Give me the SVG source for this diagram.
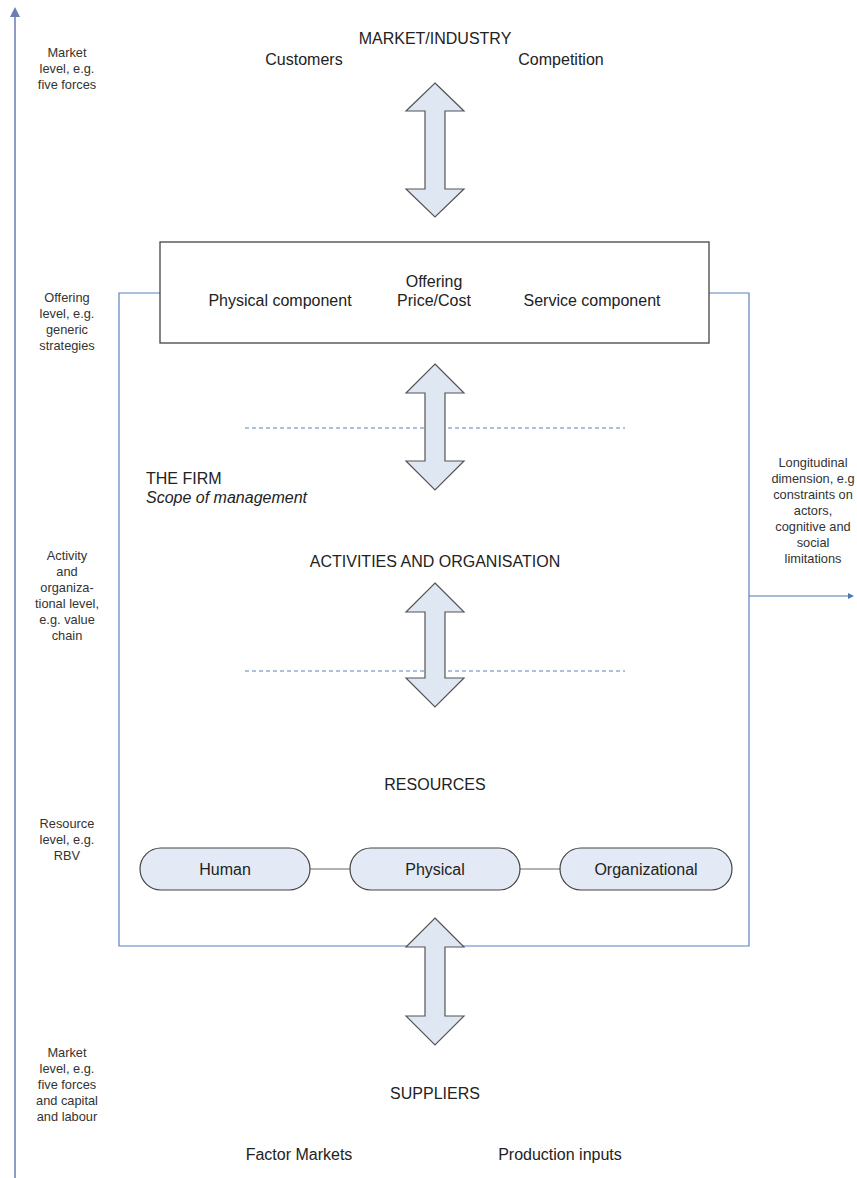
<svg xmlns="http://www.w3.org/2000/svg" width="857" height="1178" viewBox="0 0 857 1178">
  <defs>
    <style>
      .t { font-family: "Liberation Sans", Arial, sans-serif; fill: #222; font-size: 16px; }
      .c { text-anchor: middle; }
      .s { font-family: "Liberation Sans", Arial, sans-serif; fill: #333; font-size: 12.8px; text-anchor: middle; }
      .dbl { fill: #dfe7f3; stroke: #555; stroke-width: 1.2; }
      .pill { fill: #e3eaf5; stroke: #444; stroke-width: 1.2; }
      .frame { fill: none; stroke: #5b82bd; stroke-width: 1.2; }
      .dash { stroke: #5b82bd; stroke-width: 1; stroke-dasharray: 4 3; }
      .link { stroke: #666; stroke-width: 1.2; }
    </style>
    <marker id="tipUp" viewBox="0 0 10 10" refX="5" refY="5" markerWidth="5" markerHeight="5" orient="auto">
      <path d="M0,0 L10,5 L0,10 z" fill="#6b7fb5"/>
    </marker>
    <marker id="tipRight" viewBox="0 0 10 10" refX="5" refY="5" markerWidth="5" markerHeight="5" orient="auto">
      <path d="M0,0 L10,5 L0,10 z" fill="#4f76b5"/>
    </marker>
  </defs>

  <g id="connectors">
    <!-- vertical level axis -->
    <line x1="15" y1="1178" x2="15" y2="12" stroke="#8e9cc4" stroke-width="2" marker-end="url(#tipUp)"/>
    <!-- firm boundary -->
    <path class="frame" d="M160,293 L119,293 L119,946 L749,946 L749,293 L709,293"/>
    <!-- longitudinal axis -->
    <line x1="749" y1="596" x2="851" y2="596" stroke="#4f76b5" stroke-width="1.2" marker-end="url(#tipRight)"/>
    <!-- level separators -->
    <line class="dash" x1="245" y1="428" x2="625" y2="428"/>
    <line class="dash" x1="245" y1="671" x2="625" y2="671"/>
    <!-- resource links -->
    <line class="link" x1="310" y1="869" x2="350" y2="869"/>
    <line class="link" x1="520" y1="869" x2="560" y2="869"/>
    <!-- double arrows between levels -->
    <path class="dbl" d="M435,83 L464,111 L445,111 L445,189 L464,189 L435,217 L406,189 L425,189 L425,111 L406,111 Z"/>
    <path class="dbl" d="M435,364 L464,393 L445,393 L445,461 L464,461 L435,490 L406,461 L425,461 L425,393 L406,393 Z"/>
    <path class="dbl" d="M435,583 L464,612 L445,612 L445,678 L464,678 L435,707 L406,678 L425,678 L425,612 L406,612 Z"/>
    <path class="dbl" d="M435,918 L464,947 L445,947 L445,1016 L464,1016 L435,1045 L406,1016 L425,1016 L425,947 L406,947 Z"/>
  </g>

  <g id="level-labels">
    <text class="s"><tspan x="67" y="57">Market</tspan><tspan x="67" y="73">level, e.g.</tspan><tspan x="67" y="89">five forces</tspan></text>
    <text class="s"><tspan x="67" y="302">Offering</tspan><tspan x="67" y="318">level, e.g.</tspan><tspan x="67" y="334">generic</tspan><tspan x="67" y="350">strategies</tspan></text>
    <text class="s"><tspan x="67" y="560">Activity</tspan><tspan x="67" y="576">and</tspan><tspan x="67" y="592">organiza-</tspan><tspan x="67" y="608">tional level,</tspan><tspan x="67" y="624">e.g. value</tspan><tspan x="67" y="640">chain</tspan></text>
    <text class="s"><tspan x="67" y="828">Resource</tspan><tspan x="67" y="844">level, e.g.</tspan><tspan x="67" y="860">RBV</tspan></text>
    <text class="s"><tspan x="67" y="1057">Market</tspan><tspan x="67" y="1073">level, e.g.</tspan><tspan x="67" y="1089">five forces</tspan><tspan x="67" y="1105">and capital</tspan><tspan x="67" y="1121">and labour</tspan></text>
    <text class="s"><tspan x="813" y="467">Longitudinal</tspan><tspan x="813" y="483">dimension, e.g</tspan><tspan x="813" y="499">constraints on</tspan><tspan x="813" y="515">actors,</tspan><tspan x="813" y="531">cognitive and</tspan><tspan x="813" y="547">social</tspan><tspan x="813" y="563">limitations</tspan></text>
  </g>

  <g id="market">
    <text class="t c" x="435" y="44">MARKET/INDUSTRY</text>
    <text class="t c" x="304" y="65">Customers</text>
    <text class="t c" x="561" y="65">Competition</text>
  </g>

  <g id="offering">
    <rect x="160" y="242" width="549" height="101" fill="#fff" stroke="#444" stroke-width="1.3"/>
    <text class="t c" x="434" y="287">Offering</text>
    <text class="t c" x="434" y="306">Price/Cost</text>
    <text class="t c" x="280" y="306">Physical component</text>
    <text class="t c" x="592" y="306">Service component</text>
  </g>

  <g id="firm">
    <text class="t" x="146" y="484">THE FIRM</text>
    <text class="t" x="146" y="503" font-style="italic">Scope of management</text>
  </g>

  <g id="activities">
    <text class="t c" x="435" y="567">ACTIVITIES AND ORGANISATION</text>
  </g>

  <g id="resources">
    <text class="t c" x="435" y="790">RESOURCES</text>
  </g>

  <g id="human">
    <rect class="pill" x="140" y="848" width="170" height="42" rx="21"/>
    <text class="t c" x="225" y="875">Human</text>
  </g>
  <g id="physical">
    <rect class="pill" x="350" y="848" width="170" height="42" rx="21"/>
    <text class="t c" x="435" y="875">Physical</text>
  </g>
  <g id="organizational">
    <rect class="pill" x="560" y="848" width="172" height="42" rx="21"/>
    <text class="t c" x="646" y="875">Organizational</text>
  </g>

  <g id="suppliers">
    <text class="t c" x="435" y="1099">SUPPLIERS</text>
    <text class="t c" x="299" y="1160">Factor Markets</text>
    <text class="t c" x="560" y="1160">Production inputs</text>
  </g>
</svg>
